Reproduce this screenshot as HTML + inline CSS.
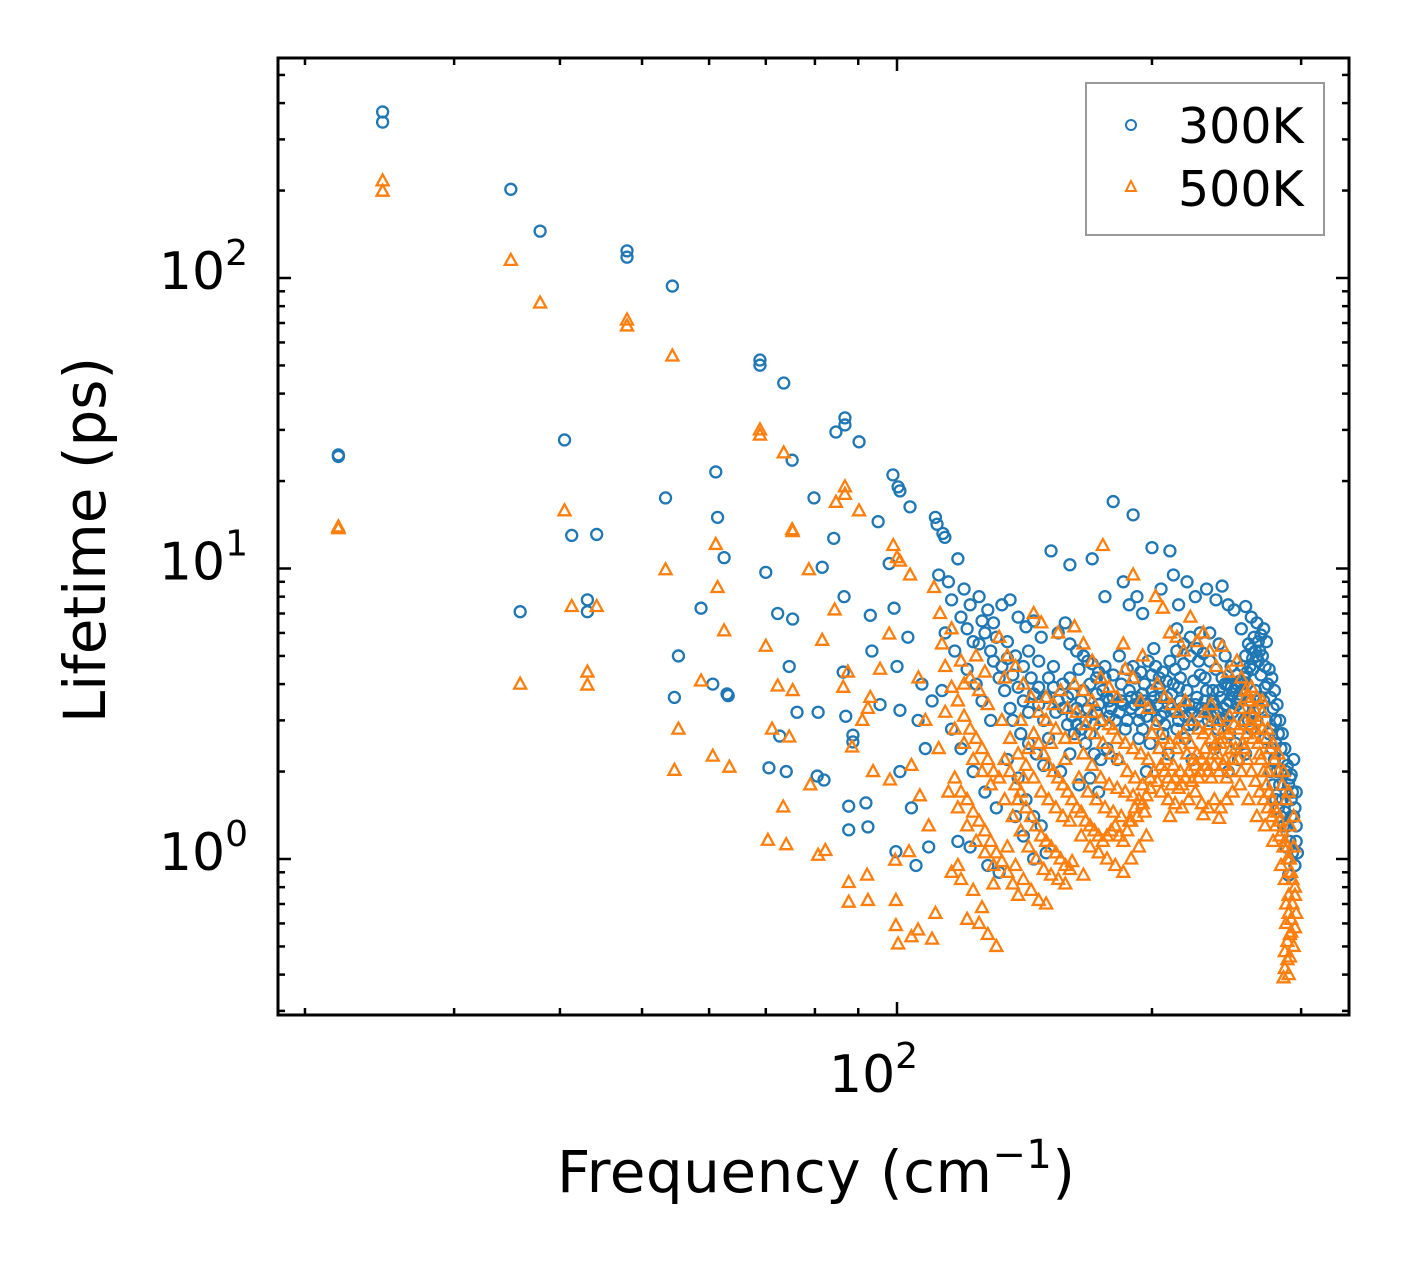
<!DOCTYPE html>
<html><head><meta charset="utf-8"><style>
body{margin:0;background:#fff}
svg text{font-family:"DejaVu Sans","Liberation Sans",sans-serif}
</style></head><body>
<svg id="chart" width="1408" height="1265" viewBox="0 0 1408 1265" xmlns="http://www.w3.org/2000/svg">
<rect width="1408" height="1265" fill="#fff"/>
<g id="marks300"></g>
<g id="marks500"></g>
<rect x="278" y="58" width="1071" height="957" fill="none" stroke="#000" stroke-width="3"/>
<g id="ticks"></g>
<text transform="translate(105,540) rotate(-90)" text-anchor="middle" font-size="58">Lifetime (ps)</text>
<text x="557" y="1192" font-size="58" textLength="518">Frequency (cm<tspan dy="-24" font-size="40">−1</tspan><tspan dy="24">)</tspan></text>
<g>
<rect x="1086" y="83" width="238" height="152" fill="#fff" stroke="#999" stroke-width="2"/>
<circle cx="1131" cy="125" r="5" fill="none" stroke="#1f77b4" stroke-width="2"/>
<text x="1178" y="143" font-size="49">300K</text>
<polygon points="1131,181 1136,191 1126,191" fill="none" stroke="#ff7f0e" stroke-width="2"/>
<text x="1178" y="206" font-size="49">500K</text>
</g>
</svg>
<script>
const pts300=[[21.9,24.6],[21.9,24.3],[24.7,373],[24.7,344],[35.0,202],[37.9,145],[48.0,124],[48.0,118],[54.3,93.8],[68.9,52.2],[68.9,50.1],[73.5,43.5],[75.2,23.6],[86.8,33],[86.8,31.2],[84.7,29.5],[90.2,27.3],[40.5,27.7],[41.3,13.0],[44.2,13.1],[35.9,7.1],[43.1,7.8],[43.1,7.1],[53.3,17.5],[61.1,21.5],[61.4,15.0],[62.5,10.9],[70.0,9.7],[58.7,7.3],[60.6,4.0],[63,3.7],[63.2,3.65],[55.2,5.0],[54.6,3.6],[72.3,7.0],[75.3,6.7],[74.6,4.6],[76.2,3.2],[72.7,2.65],[70.6,2.06],[74,2.0],[79.8,17.5],[81.6,10.1],[84.2,12.7],[86.6,8.0],[80.7,3.2],[80.5,1.93],[82,1.87],[87,3.1],[86.4,4.4],[88.7,2.53],[88.7,2.67],[87.7,1.52],[87.7,1.26],[91.9,1.56],[92.4,1.29],[95,14.5],[97.9,10.4],[98.9,21],[100.3,19.1],[100.8,18.5],[103.6,16.3],[111,15.0],[111.5,14.2],[113.3,13.2],[113.9,12.8],[93,6.9],[99.2,7.3],[100,4.6],[93.4,5.2],[100.8,3.25],[105.9,3.0],[100.8,2.0],[99.7,1.06],[105.3,0.95],[95.5,3.4],[103,5.8],[107,4.0],[108,2.4],[104,1.5],[109,1.1],[110,3.5],
[112,9.5],[115,9.0],[118,10.8],[120,8.5],[122,7.5],[125,8.0],[128,7.2],[130,6.5],[114,6.0],[117,5.2],[121,4.5],[124,4.0],[126,3.5],[129,3.0],[113,3.8],[116,2.8],[119,2.4],[123,2.0],[127,1.7],[131,1.5],[118,1.15],[122,1.1],[128,0.95],[132,0.9],[125,5.5],[127,6.0],[130,4.8],[132,4.2],[134,3.8],[136,3.3],
[133,7.5],[136,7.8],[139,6.8],[142,6.3],[145,6.6],[148,5.8],[135,5.6],[138,5.0],[141,4.6],[144,4.2],[147,3.9],[150,3.6],[137,3.0],[140,2.7],[143,2.5],[146,2.3],[149,2.1],[139,1.9],[142,1.6],[145,1.4],[148,1.3],[141,1.2],[150,1.05],[145,1.0],[152,11.5],[143,5.2],[147,4.8],[135,2.2],[138,1.4],[151,2.6],
[155,6.0],[158,6.5],[160,5.5],[163,5.2],[166,5.0],[170,4.7],[173,4.4],[176,4.2],[153,4.6],[157,4.0],[161,3.7],[165,3.5],[168,3.3],[172,3.2],[175,3.0],[178,3.1],[154,3.2],[159,2.9],[162,2.7],[167,2.5],[171,2.3],[174,2.2],[177,2.4],[156,2.0],[164,1.8],[169,1.9],[180,3.6],[160,10.3],[170,10.8],[176,8.0],[180,17.0],[163,3.3],[166,3.8],[169,4.0],[172,3.7],[178,3.5],[160,2.3],[173,1.7],
[185,9.0],[190,15.3],[188,7.5],[192,8.0],[195,7.0],[200,11.8],[205,8.5],[210,11.5],[212,9.5],[215,7.5],[220,9.0],[225,8.0],[183,5.0],[187,4.5],[191,4.2],[196,4.0],[200,4.3],[204,3.9],[208,4.1],[213,4.5],[218,4.7],[222,5.0],[227,4.8],[184,3.5],[189,3.3],[194,3.2],[198,3.4],[203,3.0],[207,3.2],[211,3.3],[216,3.5],[221,3.4],[226,3.6],[186,2.8],[193,2.6],[199,2.5],[206,2.7],[214,2.8],[219,2.6],[224,2.9],[182,2.2],[197,2.0],[209,2.3],[223,2.2],[201,5.3],[214,6.2],[228,6.0],[195,3.7],[205,3.6],[215,3.9],
[232,8.5],[238,7.8],[242,8.7],[246,7.5],[250,7.2],[255,6.2],[258,7.4],[262,6.8],[266,6.5],[234,6.0],[240,5.5],[244,5.0],[248,4.6],[252,4.3],[256,4.6],[260,5.5],[264,5.8],[268,5.2],[231,4.2],[236,3.8],[241,3.6],[245,3.4],[249,3.2],[254,3.5],[259,4.0],[263,4.5],[267,4.8],[233,3.0],[239,2.8],[243,3.0],[247,2.7],[251,2.5],[257,3.0],[261,3.5],[265,3.8],[269,4.3],[237,2.4],[253,2.2],[262,2.8],[266,3.0],[268,3.3],[246,2.0],[258,2.3],
[270,5.0],[272,4.6],[274,4.0],[276,3.6],[278,3.3],[280,3.0],[282,2.7],[284,2.4],[286,2.2],[288,2.0],[290,1.8],[292,1.6],[294,1.4],[296,1.3],[271,3.5],[273,3.0],[275,2.7],[277,2.4],[279,2.2],[281,2.0],[283,1.8],[285,1.6],[287,1.45],[289,1.3],[291,1.15],[293,1.05],[295,0.95],[290,0.88],[294,2.2],[292,1.95],[296,1.7],[297,1.05],[288,1.1],[286,1.3],[284,1.4],[282,1.5],[280,1.6],[278,1.8],[276,2.0],[272,2.6]];
const extra300=[[116,7.8],[119,6.8],[121,6.2],[123,5.6],[126,6.6],[129,5.2],[131,5.8],[133,4.6],[135,4.9],[137,4.3],[139,3.9],[141,3.5],[143,3.2],[145,3.7],[147,3.4],[149,3.0],[151,4.2],[153,3.9],[155,3.5],[157,3.3],[159,3.6],[161,3.1],[163,2.9],[165,2.8],[167,3.0],[169,2.7],[171,2.9],[173,3.4],[175,3.8],[177,3.6],[179,3.3],[181,3.0],[183,3.2],[185,3.4],[187,3.0],[189,3.6],[191,3.4],[193,3.0],[195,2.8],[197,3.1],[199,3.3],[201,3.6],[203,3.4],[205,3.1],[207,2.9],[209,3.4],[211,3.7],[213,3.2],[215,3.0],[217,3.3],[219,3.1],[221,2.9],[223,3.2],[225,3.4],[227,3.1],[229,3.3],[231,3.5],[233,3.3],[235,3.1],[237,3.4],[239,3.2],[241,3.0],[243,3.3],[245,3.1],[247,3.5],[249,3.7],[251,3.9],[253,3.6],[255,4.0],[257,4.2],[259,4.4],[261,4.6],[263,4.9],[265,5.2],[267,5.6],[269,5.9],[271,6.2],[273,5.6],[275,4.5],[277,4.2],[279,3.8],[281,3.4],[283,3.0],[285,2.7],[287,2.4],[289,2.1],[291,1.9],[293,1.7],[295,1.5],[190,4.6],[194,4.4],[198,4.8],[202,4.6],[206,4.4],[210,4.8],[214,5.2],[218,5.5],[222,5.8],[226,5.3],[230,5.1],[234,4.8],[238,4.5],[242,4.2],[246,4.0],[250,3.8],[254,4.1],[258,5.0],[262,5.3],[266,5.0],[160,4.2],[164,4.5],[168,4.8],[172,4.2],[176,4.6],[180,4.3],[184,4.0],[188,3.8],[192,3.6],[196,3.5],[200,3.8],[204,4.2],[208,3.6],[212,4.0],[216,4.2],[220,3.8],[224,4.1],[228,4.3],[232,3.8],[236,3.5],[240,3.8],[244,4.0],[248,3.9],[252,3.4],[256,3.3],[260,3.0],[264,3.2],[268,3.6],[272,3.9],[276,2.8],[280,2.5],[284,2.0],[288,1.7],[292,1.4],[296,1.15]];
const pts500=[[21.9,13.9],[21.9,13.7],[24.7,216],[24.7,199],[35.0,115],[37.9,82],[48.0,71.7],[48.0,68.4],[54.3,53.9],[68.9,30],[68.9,28.8],[73.5,25],[75.2,13.6],[86.8,19.1],[86.8,18.0],[84.7,16.9],[90.2,15.8],[40.5,15.8],[41.3,7.4],[44.2,7.4],[35.9,4.0],[43.1,4.4],[43.1,3.97],[53.3,9.9],[61.1,12.1],[61.4,8.6],[62.5,6.1],[70.0,5.4],[55.2,2.8],[54.6,2.02],[60.6,2.26],[63.4,2.07],[58.7,4.1],[75.3,13.4],[72.3,3.94],[75.3,3.8],[71.2,2.8],[74.6,2.63],[73.4,1.51],[70.4,1.16],[74,1.12],[78.7,9.9],[81.6,5.66],[84.4,7.2],[80.7,1.03],[82.3,1.07],[79,1.8],[87.5,4.4],[86.4,3.9],[88.5,2.43],[91,3.0],[92.4,3.3],[87.7,0.83],[87.7,0.71],[92.2,0.88],[92.4,0.72],[99.7,0.72],[99,12.0],[100,10.9],[100.8,10.6],[103.6,9.5],[97.9,5.95],[99.7,0.59],[100.3,0.51],[104,0.54],[105.9,0.57],[110,0.53],[111,0.65],[95.5,4.5],[93,3.6],[93.7,2.0],[98.1,1.87],[99.5,0.99],[103.3,1.06],[104,2.1],[106.4,1.65],[110.6,8.6],[112.4,7.0],[108,3.0],[106,4.2],[109,1.3],
[113,5.5],[116,6.2],[119,4.8],[122,4.2],[125,3.8],[128,3.4],[114,3.2],[117,2.8],[120,2.5],[123,2.2],[126,2.0],[129,1.8],[115,1.7],[118,1.5],[121,1.3],[124,1.15],[127,1.05],[130,0.95],[116,0.9],[119,0.85],[123,0.78],[126,0.68],[121,0.62],[128,0.55],[131,0.5],[125,0.6],[130,0.82],[120,4.0],[124,5.0],[127,4.4],[112,2.4],[118,0.95],
[132,5.8],[135,5.0],[138,4.6],[141,4.0],[144,3.6],[147,3.2],[150,3.0],[153,3.4],[156,3.8],[159,3.3],[133,3.0],[136,2.6],[139,2.3],[142,2.1],[145,1.9],[148,1.7],[151,1.6],[154,1.5],[157,1.4],[160,1.35],[134,1.6],[137,1.4],[140,1.25],[143,1.1],[146,1.0],[149,0.92],[152,0.88],[155,0.85],[158,0.82],[135,1.1],[138,0.95],[141,0.85],[144,0.78],[147,0.72],[150,0.7],[139,0.75],[145,7.0],[148,6.5],[155,6.0],[152,2.5],[158,2.2],[134,4.2],[140,3.0],
[162,6.3],[166,5.5],[170,4.8],[174,4.2],[178,3.9],[182,3.6],[186,4.5],[190,4.2],[194,3.5],[198,3.3],[163,3.2],[167,2.9],[171,2.7],[175,2.5],[179,2.3],[183,2.2],[187,2.0],[191,1.9],[195,1.8],[199,1.75],[164,1.9],[168,1.7],[172,1.6],[176,1.5],[180,1.45],[184,1.4],[188,1.35],[192,1.4],[196,1.45],[165,1.2],[169,1.1],[173,1.05],[177,1.0],[181,0.95],[185,0.9],[189,1.0],[193,1.1],[197,1.2],[161,0.98],[166,0.88],[175,12.0],[185,5.5],[190,9.5],[195,5.0],[180,2.8],[170,3.5],
[202,8.0],[206,7.3],[210,6.0],[214,5.8],[218,5.2],[222,6.8],[226,5.6],[230,6.0],[234,5.2],[238,4.6],[242,5.4],[246,4.4],[203,4.0],[207,3.6],[211,3.4],[215,3.2],[219,3.5],[223,3.0],[227,2.8],[231,3.2],[235,3.4],[239,3.0],[243,2.8],[247,3.1],[204,2.4],[208,2.2],[212,2.1],[216,2.0],[220,2.3],[224,2.2],[228,2.0],[232,2.1],[236,2.3],[240,2.0],[244,2.2],[248,2.4],[205,1.7],[209,1.6],[213,1.55],[217,1.5],[221,1.6],[225,1.7],[229,1.55],[233,1.5],[237,1.6],[241,1.5],[245,1.6],[249,1.7],[210,1.4],[230,1.42],[240,1.38],[200,2.7],[215,2.6],[235,2.6],
[252,4.8],[255,4.2],[258,3.8],[261,3.5],[264,3.3],[267,3.0],[270,2.8],[273,2.6],[276,2.4],[279,2.2],[282,2.0],[285,1.8],[288,1.6],[291,1.3],[294,1.1],[253,2.8],[256,2.5],[259,2.2],[262,2.0],[265,1.85],[268,1.7],[271,1.6],[274,1.5],[277,1.4],[280,1.3],[283,1.2],[286,1.1],[289,1.0],[292,0.9],[295,0.8],[254,1.8],[260,1.6],[266,1.4],[272,1.3],[278,1.15],[284,0.95],[287,0.85],[290,0.75],[293,0.7],[296,0.65],[288,0.6],[291,0.55],[294,0.5],[289,0.45],[287,0.42],[290,0.4],[286,0.39],[292,0.62],[295,0.58],[263,2.6],[268,2.3],[274,2.0],[270,3.5],[257,3.0]];
const extra500=[[114,4.6],[116,3.9],[118,3.5],[120,3.1],[122,2.8],[124,2.6],[126,2.4],[128,2.2],[130,2.0],[132,1.9],[134,2.2],[136,2.0],[138,1.8],[140,1.7],[142,1.5],[144,1.4],[146,1.3],[148,1.2],[150,1.15],[152,1.1],[154,1.05],[156,1.0],[158,0.95],[160,0.92],[117,1.9],[119,1.7],[121,1.6],[123,1.45],[125,1.35],[127,1.25],[129,1.15],[131,1.05],[133,0.98],[135,0.9],[137,0.82],[139,1.6],[141,1.9],[143,2.4],[145,2.7],[147,2.5],[149,2.3],[151,2.1],[153,2.0],[155,1.9],[157,1.8],[159,1.7],[161,1.6],[163,1.5],[165,1.45],[167,1.35],[169,1.3],[171,1.25],[173,1.2],[175,1.15],[177,1.2],[179,1.25],[181,1.3],[183,1.2],[185,1.15],[187,1.25],[189,1.35],[191,1.5],[193,1.6],[195,1.55],[197,1.65],[199,1.9],[201,2.0],[203,1.85],[205,2.1],[207,2.0],[209,1.9],[211,1.8],[213,1.9],[215,1.75],[217,1.8],[219,1.9],[221,2.0],[223,1.85],[225,2.1],[227,1.9],[229,2.2],[231,2.4],[233,2.0],[235,1.9],[237,2.1],[239,2.3],[241,2.5],[243,2.1],[245,1.9],[247,2.0],[249,2.2],[251,2.4],[253,2.2],[255,2.0],[257,2.4],[259,2.7],[261,2.9],[263,3.1],[265,2.8],[267,2.5],[269,2.2],[271,2.0],[273,1.8],[275,1.7],[277,1.6],[279,1.5],[281,1.45],[283,1.35],[285,1.25],[287,1.15],[289,1.1],[291,1.0],[293,0.85],[295,0.75],[288,0.7],[290,0.65],[292,0.56],[289,0.52],[287,0.48],[291,0.46],[162,2.6],[166,2.3],[170,2.1],[174,1.9],[178,1.8],[182,1.75],[186,1.7],[190,1.65],[194,2.3],[198,2.2],[202,2.9],[206,2.6],[210,2.5],[214,2.4],[218,2.7],[222,2.5],[226,2.3],[230,2.7],[234,2.9],[238,2.5],[242,2.6],[246,2.7],[250,2.9],[254,3.3],[258,3.6],[262,3.9],[266,3.6],[270,3.2],[274,2.8],[278,2.5],[282,2.3],[286,2.0],[290,1.7],[294,1.4],[150,3.6],[154,2.8],[158,2.6],[162,4.0],[166,3.8],[170,3.2],[174,3.0],[178,2.9],[182,2.6],[186,2.5],[190,2.4]];
const yMajor=[1,10,100];
const yMajorLabels=["0","1","2"];
const xMajor=[100];
const xMajorLabels=["2"];
const xMinor=[20,30,40,50,60,70,80,90,200,300];

const NS="http://www.w3.org/2000/svg";
const X0=278,X1=1349,Y0=58,Y1=1015;
function xs(f){return 897+847*(Math.log10(f)-2);}
function ys(t){return 859-290.5*Math.log10(t);}
function mk(tag,attrs,parent){const e=document.createElementNS(NS,tag);for(const k in attrs)e.setAttribute(k,attrs[k]);parent.appendChild(e);return e;}
const g3=document.getElementById('marks300');
pts300.concat(extra300).forEach(p=>{
  const c=mk('circle',{cx:xs(p[0]),cy:ys(p[1]),r:5.5,fill:'none',stroke:'#1f77b4','stroke-width':2.3},g3);
  
  
});
const g5=document.getElementById('marks500');
pts500.concat(extra500).forEach(p=>{
  const x=xs(p[0]),y=ys(p[1]);
  const t=mk('polygon',{points:`${x},${y-6.5} ${x+6},${y+4.5} ${x-6},${y+4.5}`,fill:'none',stroke:'#ff7f0e','stroke-width':2.3},g5);
  
  
});
const gt=document.getElementById('ticks');
const svg=document.getElementById('chart');
function line(x1,y1,x2,y2){const l=mk('line',{x1,y1,x2,y2,stroke:'#000','stroke-width':2.5},gt);
  
  }
for(let d=-1;d<=2;d++){for(let m=1;m<=9;m++){const v=m*Math.pow(10,d);const y=ys(v);if(y<Y0||y>Y1)continue;const L=(m===1)?13:7;line(X0,y,X0+L,y);line(X1,y,X1-L,y);}}
yMajor.forEach((v,i)=>{const y=ys(v);
  const t=mk('text',{x:248,y:y+11,'text-anchor':'end','font-size':52},svg);
  
  
  t.innerHTML='10<tspan dy="-24" font-size="36">'+yMajorLabels[i]+'</tspan>';});
xMinor.forEach(v=>{const x=xs(v);line(x,Y1,x,Y1-7);line(x,Y0,x,Y0+7);});
xMajor.forEach((v,i)=>{const x=xs(v);line(x,Y1,x,Y1-13);line(x,Y0,x,Y0+13);
  const t=mk('text',{x:x-68,y:1092,'font-size':52},svg);
  
  
  t.innerHTML='10<tspan dy="-24" font-size="36">'+xMajorLabels[i]+'</tspan>';});
</script>
</body></html>
